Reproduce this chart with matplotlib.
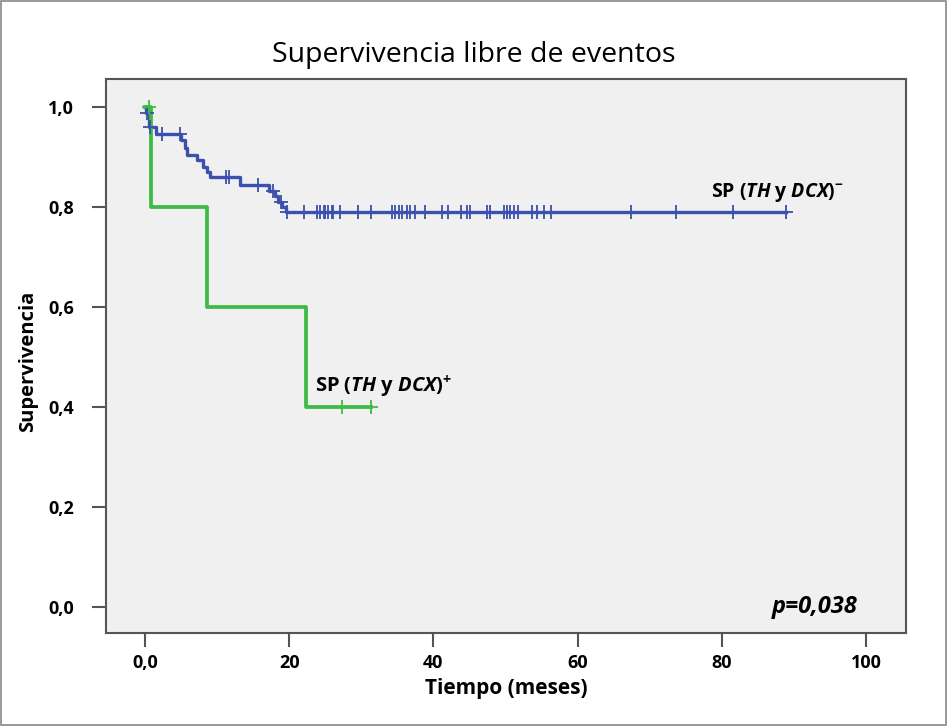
"""Kaplan-Meier style chart: event-free survival by SP (TH y DCX) status"""

import numpy as np
from matplotlib import pyplot as plt
from matplotlib.patches import Rectangle

plt.rcParams['font.family'] = ['Open Sans', 'DejaVu Sans']
plt.rcParams['mathtext.fontset'] = 'custom'
plt.rcParams['mathtext.rm'] = 'Open Sans:bold'
plt.rcParams['mathtext.bfit'] = 'Open Sans:italic:bold'

# negative group (blue): step times and survival after each step
blue_times = [0, 0.2, 0.5, 1.5, 5.0, 5.5, 5.8, 7.2, 8.1, 8.6, 9.0, 13.2, 17.2, 18.0, 18.5, 19.0, 19.5]
blue_surv = [1.0, 0.988, 0.961, 0.947, 0.934, 0.918, 0.904, 0.894, 0.881, 0.871, 0.861, 0.844,
             0.833, 0.822, 0.811, 0.801, 0.791]
blue_end = 88.9
blue_censored = [0.3, 0.7, 2.3, 4.8, 11.2, 11.6, 15.7, 17.8, 18.8,
                 19.7, 22.0, 23.9, 24.3, 24.8, 25.0, 25.4, 25.9, 26.1, 27.1, 29.6, 31.3,
                 34.3, 34.7, 35.2, 35.6, 36.3, 36.8, 37.5, 38.9, 41.2, 42.1, 43.8, 44.7, 45.1,
                 47.4, 47.9, 49.8, 50.2, 50.6, 51.2, 51.8, 53.7, 54.4, 55.3, 56.3,
                 67.4, 73.6, 81.5, 88.9]

# positive group (green)
green_times = [0, 0.8, 8.6, 22.3]
green_surv = [1.0, 0.8, 0.6, 0.4]
green_end = 31.4
green_censored = [0.5, 27.3, 31.4]

BLUE = '#3c50ad'
GREEN = '#3dbb45'


def surv_at(times, surv, t):
    """Survival value of a step curve at time t"""
    idx = np.searchsorted(times, t, side='right') - 1
    return np.array(surv)[idx]


def draw_curve(ax, times, surv, end, censored, color, width):
    """Draws one step curve with its censor marks"""
    xs = list(times) + [end]
    ys = list(surv) + [surv[-1]]
    ax.step(xs, ys, where='post', color=color, linewidth=width, zorder=3)
    ax.plot(censored, surv_at(times, surv, censored), linestyle='none', marker='+',
            markersize=10, markeredgewidth=1.3, color=color, zorder=4)


def main():
    """Main method"""

    fig = plt.figure(figsize=(9.47, 7.26), dpi=100)
    ax = fig.add_axes([0.112, 0.128, 0.845, 0.763])
    ax.set_facecolor('#f0f0f0')

    draw_curve(ax, blue_times, blue_surv, blue_end, blue_censored, BLUE, 2.4)
    draw_curve(ax, green_times, green_surv, green_end, green_censored, GREEN, 2.7)

    ax.set_xlim(-5.4, 105.6)
    ax.set_ylim(-0.052, 1.056)
    ax.set_xticks([0, 20, 40, 60, 80, 100])
    ax.set_xticklabels(['0,0', '20', '40', '60', '80', '100'])
    ax.set_yticks([0, 0.2, 0.4, 0.6, 0.8, 1.0])
    ax.set_yticklabels(['0,0', '0,2', '0,4', '0,6', '0,8', '1,0'])
    ax.tick_params(axis='both', direction='out', length=10, width=1.5, color='#555555',
                   labelsize=13)
    ax.tick_params(axis='y', pad=13)
    ax.tick_params(axis='x', pad=5)
    for label in ax.get_xticklabels() + ax.get_yticklabels():
        label.set_fontweight('bold')
    for spine in ax.spines.values():
        spine.set_color('#555555')
        spine.set_linewidth(1.5)

    ax.set_xlabel('Tiempo (meses)', fontsize=15, fontweight='bold')
    ax.set_ylabel('Supervivencia', fontsize=14.5, fontweight='bold')
    ax.xaxis.set_label_coords(0.5, -0.082)
    ax.yaxis.set_label_coords(-0.085, 0.49)
    fig.text(0.5, 0.924, 'Supervivencia libre de eventos', ha='center', va='center',
             fontsize=20.5)

    ax.text(78.5, 0.83, r'SP ($\mathbfit{TH}$ y $\mathbfit{DCX}$)$^{-}$', fontsize=14,
            fontweight='bold', ha='left', va='center')
    ax.text(23.6, 0.44, r'SP ($\mathbfit{TH}$ y $\mathbfit{DCX}$)$^{+}$', fontsize=14.5,
            fontweight='bold', ha='left', va='center')
    ax.text(98.8, 0.0, 'p=0,038', fontsize=17, fontweight='bold', fontstyle='italic',
            ha='right', va='center')

    fig.patches.append(Rectangle((0.001, 0.001), 0.998, 0.998, transform=fig.transFigure,
                                 fill=False, edgecolor='#888888', linewidth=1.2))

    plt.savefig('out.png', dpi=100)


if __name__ == '__main__':
    main()
